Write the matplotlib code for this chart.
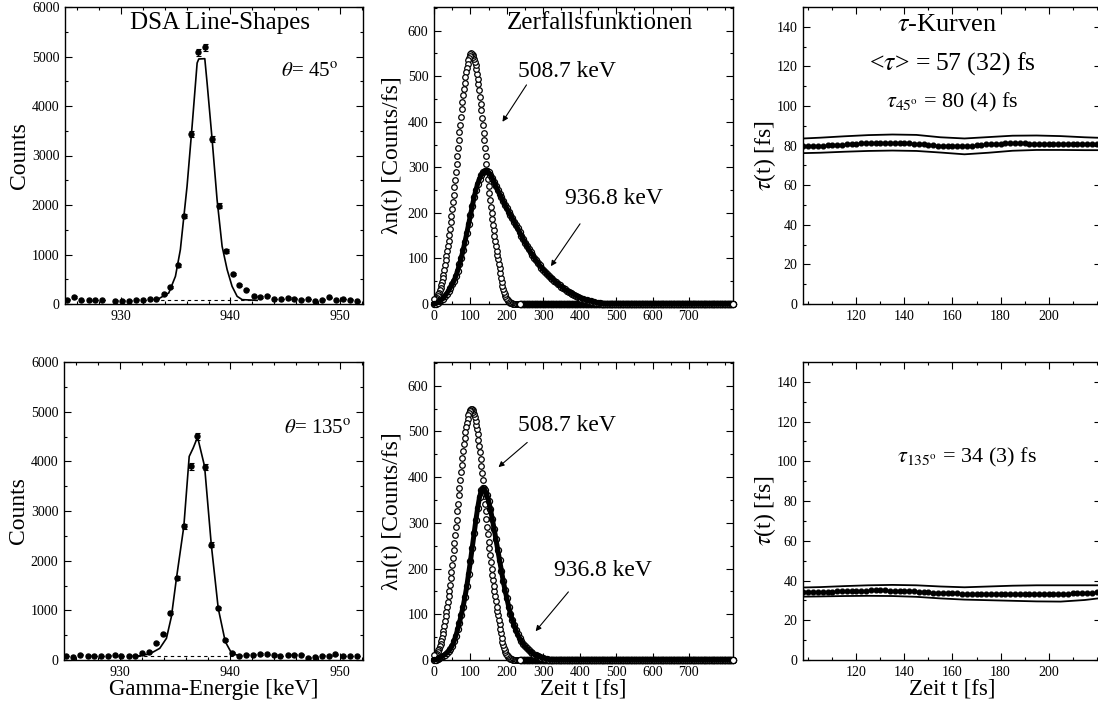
import numpy as np
import matplotlib
matplotlib.use('Agg')
import matplotlib.pyplot as plt
from matplotlib.ticker import MultipleLocator, FixedLocator

plt.rcParams['font.family'] = ['Liberation Serif', 'DejaVu Serif']
plt.rcParams['mathtext.fontset'] = 'stix'

# ---- DSA line shapes (counts vs gamma energy) ----
e_45 = [925.08, 925.75, 926.39, 927.06, 927.67, 928.28, 929.50, 930.11, 930.78, 931.39,
        932.02, 932.63, 933.24, 933.91, 934.52, 935.19, 935.80, 936.41, 937.02, 937.69,
        938.30, 938.93, 939.57, 940.21, 940.82, 941.46, 942.13, 942.74, 943.35, 943.96,
        944.57, 945.24, 945.84, 946.48, 947.09, 947.76, 948.37, 948.98, 949.59, 950.26,
        950.90, 951.57]
c_45 = [88, 141, 74, 74, 81, 81, 67, 67, 67, 88, 81, 101, 101, 202, 343, 781, 1785, 3434,
        5084, 5185, 3327, 1987, 1071, 606, 384, 290, 155, 141, 168, 101, 101, 121, 108, 88,
        101, 54, 88, 135, 74, 101, 88, 54]
fit_e_45 = [933.30, 934.37, 934.98, 935.43, 936.04, 936.50, 936.96, 937.11, 937.66, 937.87,
            938.33, 938.78, 939.24, 939.70, 940.15, 940.61, 941.07, 942.44]
fit_c_45 = [88, 222, 559, 1098, 2377, 3589, 4869, 4950, 4956, 4465, 3320, 2108, 1165, 694,
            357, 155, 88, 74]
base_e_45 = [933.0, 942.6]
base_c_45 = [85, 85]

e_135 = [925.08, 925.75, 926.39, 927.06, 927.67, 928.28, 928.89, 929.50, 930.11, 930.78,
         931.39, 932.02, 932.63, 933.24, 933.91, 934.52, 935.19, 935.80, 936.41, 937.02,
         937.69, 938.30, 938.93, 939.57, 940.21, 940.82, 941.46, 942.13, 942.74, 943.35,
         943.96, 944.57, 945.24, 945.84, 946.48, 947.09, 947.76, 948.37, 948.98, 949.59,
         950.26, 950.90, 951.57]
c_135 = [81, 54, 101, 87, 81, 81, 87, 94, 81, 87, 81, 134, 168, 336, 524, 954, 1646, 2688,
         3897, 4502, 3884, 2318, 1041, 403, 148, 87, 101, 101, 121, 114, 101, 81, 108, 101,
         101, 47, 67, 87, 87, 114, 81, 81, 81]
fit_e_135 = [931.63, 932.69, 933.61, 934.22, 934.67, 935.13, 935.80, 936.29, 936.65, 937.05,
             937.69, 938.30, 938.93, 939.57, 940.15, 940.91]
fit_c_135 = [81, 121, 235, 437, 873, 1646, 2688, 4099, 4267, 4488, 3897, 2318, 1041, 370,
             134, 81]
base_e_135 = [931.5, 940.3]
base_c_135 = [80, 80]

# ---- decay functions lambda*n(t) ----
n_508 = [10, 5, 7, 10, 13, 17, 21, 25, 30, 35, 41, 48, 56, 64, 74, 85, 96, 106, 116, 127,
         139, 152, 165, 179, 193, 208, 224, 240, 256, 273, 290, 307, 325, 342, 360, 377,
         394, 411, 427, 443, 458, 472, 485, 498, 509, 519, 527, 535, 541, 545, 548, 550,
         549, 547, 543, 538, 532, 524, 515, 505, 494, 482, 469, 455, 440, 425, 409, 393,
         376, 359, 342, 325, 308, 291, 275, 259, 244, 229, 214, 200, 187, 174, 162, 150,
         139, 128, 117, 107, 98, 88, 78, 68, 58, 49, 40, 33, 27, 22, 18, 14, 11, 9, 7, 5,
         4, 3, 2, 2, 1, 1, 1, 0, 0, 0, 0, 0]
t_508 = np.arange(0, 2 * len(n_508), 2)
t_tail = np.arange(236, 821, 2)
n_tail = np.zeros(len(t_tail))

t_936 = np.arange(0, 821, 5)
n_936_45 = [0, 1, 3, 6, 9, 12, 17, 23, 29, 36, 43, 51, 61, 73, 87, 102, 118, 136, 155, 175,
            196, 216, 234, 250, 264, 275, 283, 289, 292, 292, 289, 283, 276, 268, 259, 250,
            242, 234, 226, 218, 210, 203, 195, 188, 181, 173, 166, 158, 150, 142, 135, 128,
            121, 114, 108, 102, 96, 91, 85, 80, 75, 71, 66, 62, 58, 55, 51, 48, 44, 41, 38,
            35, 32, 29, 27, 24, 22, 20, 18, 16, 14, 12, 11, 9, 8, 7, 6, 5, 4, 3, 2, 2, 1, 1]
n_936_45 = n_936_45 + [0] * (len(t_936) - len(n_936_45))
n_936_135 = [0, 1, 2, 4, 6, 9, 12, 15, 19, 24, 31, 41, 53, 67, 82, 99, 117, 138, 161, 188,
             216, 246, 277, 306, 333, 356, 371, 376, 372, 362, 348, 330, 309, 287, 264, 241,
             218, 195, 173, 153, 135, 117, 101, 88, 76, 65, 56, 48, 41, 35, 30, 26, 22, 18,
             15, 12, 10, 8, 7, 5, 4, 3, 2, 1, 1]
n_936_135 = n_936_135 + [0] * (len(t_936) - len(n_936_135))

# ---- tau curves ----
tau_45 = [79.8, 79.8, 79.9, 79.9, 80.0, 80.1, 80.2, 80.4, 80.5, 80.7, 80.8, 81.0, 81.1, 81.2,
          81.3, 81.4, 81.5, 81.5, 81.5, 81.5, 81.4, 81.3, 81.2, 81.0, 80.8, 80.6, 80.4, 80.2,
          80.0, 79.9, 79.8, 79.8, 79.8, 79.8, 79.9, 80.0, 80.2, 80.4, 80.6, 80.8, 80.9, 81.0,
          81.1, 81.1, 81.1, 81.1, 81.1, 81.0, 81.0, 80.9, 80.9, 80.8, 80.8, 80.7, 80.7, 80.7,
          80.6, 80.6, 80.6, 80.6, 80.6, 80.6]
tau_135 = [34.0, 34.0, 34.1, 34.1, 34.2, 34.3, 34.4, 34.5, 34.6, 34.7, 34.8, 34.8, 34.9, 34.9,
           35.0, 35.0, 35.0, 35.0, 34.9, 34.9, 34.8, 34.7, 34.6, 34.5, 34.3, 34.2, 34.0, 33.9,
           33.8, 33.7, 33.6, 33.5, 33.5, 33.4, 33.4, 33.4, 33.4, 33.4, 33.4, 33.3, 33.3, 33.3,
           33.3, 33.3, 33.3, 33.3, 33.3, 33.3, 33.3, 33.3, 33.3, 33.3, 33.3, 33.3, 33.4, 33.4,
           33.5, 33.6, 33.7, 33.8, 33.9, 34.1]
t_tau = np.arange(98, 98 + 2 * len(tau_45), 2)
t_band = [98, 105, 115, 125, 135, 145, 155, 165, 175, 185, 195, 205, 215, 222]
up_45 = [83.6, 84.0, 84.7, 85.3, 85.6, 85.4, 84.2, 83.6, 84.3, 85.0, 85.1, 84.8, 84.2, 83.9]
lo_45 = [76.2, 76.4, 76.9, 77.3, 77.5, 77.3, 76.5, 75.6, 76.4, 77.4, 77.8, 77.8, 77.7, 77.7]
up_135 = [36.5, 36.7, 37.2, 37.6, 37.8, 37.6, 37.0, 36.6, 37.0, 37.4, 37.6, 37.6, 37.6, 37.6]
lo_135 = [31.9, 32.0, 32.2, 32.3, 32.2, 31.8, 31.0, 30.4, 30.1, 29.8, 29.5, 29.4, 30.2, 31.2]

W, H = 1098.0, 704.0
fig = plt.figure(figsize=(W / 100, H / 100), dpi=100)


def box(l, t, w, h):
    return [l / W, 1 - (t + h) / H, w / W, h / H]


def style(ax):
    ax.tick_params(which='both', direction='in', top=True, right=True, width=0.8,
                   labelsize=10, pad=4)
    ax.tick_params(which='major', length=5)
    ax.tick_params(which='minor', length=2.5)
    for s in ax.spines.values():
        s.set_linewidth(1.0)


def line_shape(ax, e, c, fe, fc, be, bc):
    ax.errorbar(e, c, yerr=np.sqrt(c), fmt='o', color='k', ms=3.6, elinewidth=0.8,
                capsize=1.8, capthick=0.8)
    ax.plot(fe, fc, 'k-', lw=1.2)
    ax.plot(be, bc, color='k', ls=(0, (3, 3)), lw=0.8)
    ax.set_xlim(924.9, 952.1)
    ax.set_ylim(0, 6000)
    ax.xaxis.set_major_locator(FixedLocator([930, 940, 950]))
    ax.xaxis.set_minor_locator(MultipleLocator(2))
    ax.yaxis.set_major_locator(MultipleLocator(1000))
    ax.yaxis.set_minor_locator(MultipleLocator(500))
    ax.set_ylabel('Counts', fontsize=17, labelpad=1.5)
    style(ax)


def decay(ax, n936):
    circ = dict(mfc='white', mec='k', mew=0.9, ls='none', clip_on=False)
    ax.plot(t_508[::-1], n_508[::-1], 'o', ms=4.0, zorder=3, **circ)
    ax.plot(t_tail[::-1], n_tail[::-1], 'o', ms=4.4, zorder=3, **circ)
    ax.plot(t_tail[1:], n_tail[1:], 'k-', lw=3.6, clip_on=False, zorder=3.5)
    ax.plot(t_tail[:1], n_tail[:1], 'o', ms=4.4, zorder=3.6, **circ)
    ax.plot(t_936, n936, 'o', ms=4.4, zorder=4, **circ)
    ax.plot(t_936[:-1], n936[:-1], 'k-', lw=3.6, clip_on=False, zorder=5)
    ax.plot(t_936[-1:], n936[-1:], 'o', ms=4.4, zorder=6, **circ)
    ax.set_xlim(0, 821)
    ax.set_ylim(0, 652)
    ax.xaxis.set_major_locator(FixedLocator(range(0, 701, 100)))
    ax.xaxis.set_minor_locator(MultipleLocator(50))
    ax.yaxis.set_major_locator(MultipleLocator(100))
    ax.yaxis.set_minor_locator(MultipleLocator(50))
    ax.set_ylabel('λn(t) [Counts/fs]', fontsize=17, labelpad=3)
    style(ax)


def tau_plot(ax, tau, up, lo):
    ax.plot(t_band, up, 'k-', lw=1.3)
    ax.plot(t_band, lo, 'k-', lw=1.3)
    ax.plot(t_tau, tau, 'o', color='k', ms=3.4, ls='none')
    ax.set_xlim(97.8, 221.8)
    ax.set_ylim(0, 150)
    ax.xaxis.set_major_locator(FixedLocator([120, 140, 160, 180, 200]))
    ax.xaxis.set_minor_locator(MultipleLocator(10))
    ax.yaxis.set_major_locator(MultipleLocator(20))
    ax.yaxis.set_minor_locator(MultipleLocator(10))
    ax.set_ylabel(r'$\tau$(t) [fs]', fontsize=17, labelpad=-1)
    style(ax)


arrow = dict(arrowstyle='-|>', color='k', lw=0.8, mutation_scale=8, shrinkA=0, shrinkB=0)

# top row (45 deg)
ax = fig.add_axes(box(65, 7, 298, 297))
line_shape(ax, e_45, c_45, fit_e_45, fit_c_45, base_e_45, base_c_45)
ax.text(0.52, 0.946, 'DSA Line-Shapes', transform=ax.transAxes, ha='center', va='center',
        fontsize=18)
ax.text(0.82, 0.778, r'$\theta$= 45$^{\rm o}$', transform=ax.transAxes, ha='center',
        va='center', fontsize=15)

ax = fig.add_axes(box(434, 7, 299, 297))
decay(ax, np.array(n_936_45))
ax.text(0.555, 0.946, 'Zerfallsfunktionen', transform=ax.transAxes, ha='center',
        va='center', fontsize=18)
ax.text(231, 510, '508.7 keV', ha='left', va='center', fontsize=17)
ax.annotate('', xy=(188, 400), xytext=(254, 481), arrowprops=arrow)
ax.text(360, 232, '936.8 keV', ha='left', va='center', fontsize=17)
ax.annotate('', xy=(321, 83), xytext=(401, 176), arrowprops=arrow)

ax = fig.add_axes(box(803, 7, 298, 297))
tau_plot(ax, tau_45, up_45, lo_45)
ax.text(0.483, 0.939, r'$\tau$-Kurven', transform=ax.transAxes, ha='center', va='center',
        fontsize=19)
ax.text(0.5, 0.811, r'<$\tau$> = 57 (32) fs', transform=ax.transAxes, ha='center',
        va='center', fontsize=18.5)
ax.text(0.5, 0.68, r'$\tau_{45^{\rm o}}$ = 80 (4) fs', transform=ax.transAxes,
        ha='center', va='center', fontsize=16)

# bottom row (135 deg)
ax = fig.add_axes(box(64, 362, 299, 298))
line_shape(ax, e_135, c_135, fit_e_135, fit_c_135, base_e_135, base_c_135)
ax.text(0.85, 0.772, r'$\theta$= 135$^{\rm o}$', transform=ax.transAxes, ha='center',
        va='center', fontsize=15)
ax.set_xlabel('Gamma-Energie [keV]', fontsize=16.5, labelpad=0)

ax = fig.add_axes(box(434, 362, 299, 298))
decay(ax, np.array(n_936_135))
ax.text(231, 513, '508.7 keV', ha='left', va='center', fontsize=17)
ax.annotate('', xy=(177, 422), xytext=(256, 476), arrowprops=arrow)
ax.text(330, 196, '936.8 keV', ha='left', va='center', fontsize=17)
ax.annotate('', xy=(279, 63), xytext=(369, 149), arrowprops=arrow)
ax.set_xlabel('Zeit t [fs]', fontsize=16.5, labelpad=0)

ax = fig.add_axes(box(803, 362, 298, 298))
tau_plot(ax, tau_135, up_135, lo_135)
ax.text(0.55, 0.68, r'$\tau_{135^{\rm o}}$ = 34 (3) fs', transform=ax.transAxes,
        ha='center', va='center', fontsize=16)
ax.set_xlabel('Zeit t [fs]', fontsize=16.5, labelpad=0)

fig.savefig('out.png', dpi=100)
